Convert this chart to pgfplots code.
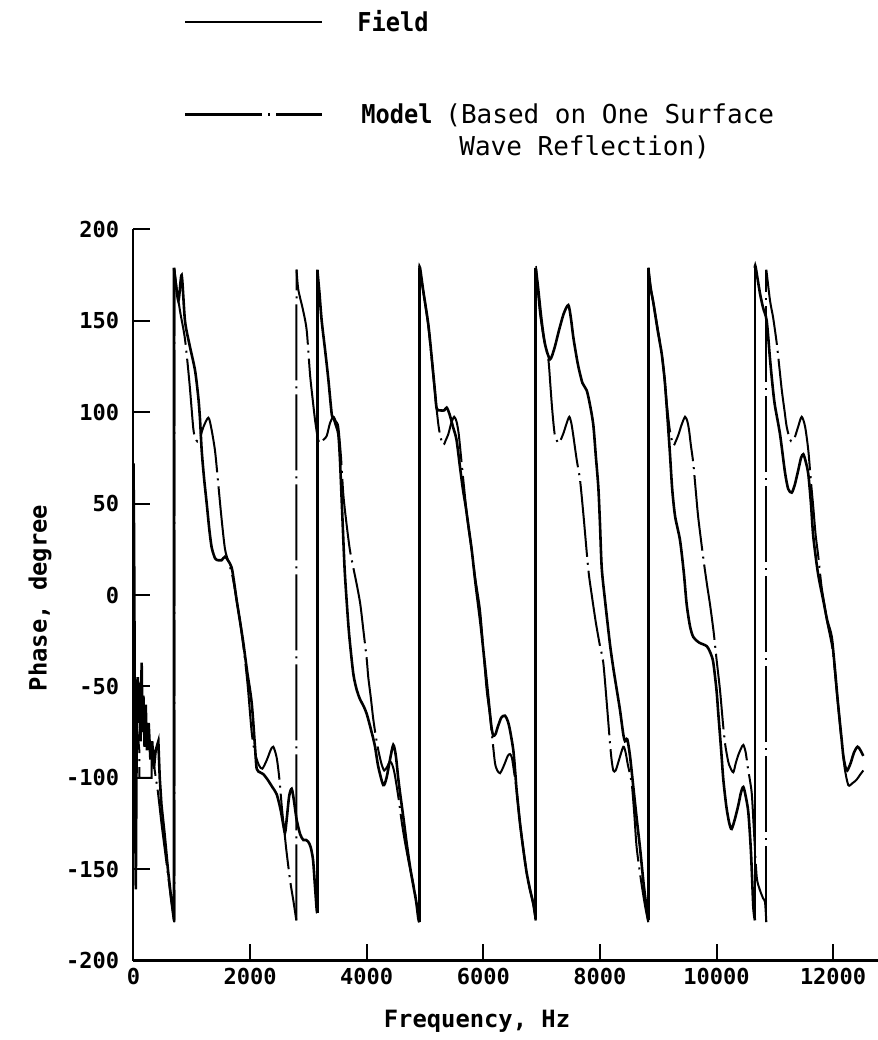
\documentclass[border=0pt]{standalone}
\usepackage{fontspec}
\usepackage{graphicx}
\usepackage{pgfplots}
\pgfplotsset{compat=1.18}
\newfontfamily\plotfont{DejaVu Sans Mono}
\pgfplotsset{
  F/.style={black, line width=1.3pt, smooth, tension=0.45},
  Fs/.style={black, line width=1.3pt},
  M/.style={black, line width=1pt, dash pattern=on 38pt off 3pt on 1pt off 3pt, smooth, tension=0.45},
  Ms/.style={black, line width=1pt, dash pattern=on 38pt off 3pt on 1pt off 3pt},
}
\begin{document}
\begin{tikzpicture}
\begin{axis}[
  at={(0,0)}, anchor=south west,
  scale only axis, width=372.25pt, height=365.6pt,
  xmin=0, xmax=12770, ymin=-200, ymax=200,
  axis lines=left, axis line style={-},
  x axis line style={line width=1.6pt},
  y axis line style={line width=1pt},
  tick align=inside, major tick length=8.5pt,
  tick style={line width=1pt, black},
  scaled ticks=false,
  xtick={0,2000,4000,6000,8000,10000,12000},
  xticklabels={0,2000,4000,6000,8000,10000,12000},
  ytick={-200,-150,-100,-50,0,50,100,150,200},
  yticklabels={-200,-150,-100,-50,0,50,100,150,200},
  ticklabel style={font=\plotfont\bfseries\fontsize{11}{12}\selectfont},
  yticklabel style={anchor=east, inner sep=0pt, xshift=-7pt},
  xticklabel style={anchor=north, inner sep=0pt, yshift=-3.7pt},
]
% ---------------- Field (solid) ----------------
\addplot[Fs] coordinates {
(0,72) (10,30) (20,-40) (30,-120) (40,-161) (50,-100) (60,-60) (75,-45) (90,-70) (105,-48) (120,-80) (140,-37) (155,-75) (170,-55) (190,-83) (210,-60) (230,-85) (260,-70) (290,-90) (320,-80) (350,-95) (380,-85) (426,-80) (450,-100) (480,-115) (530,-130) (590,-150) (650,-167) (695,-178) (695,179)};
\addplot[F] coordinates {
(695,179) (769,161) (826,175) (883,150) (960,137) (1055,123) (1112,108) (1141,96) (1170,79) (1210,64) (1256,50) (1300,36) (1341,26) (1400,20) (1455,19) (1510,19) (1570,21) (1620,19) (1684,15) (1730,6) (1770,-3) (1830,-15) (1883,-26) (1950,-42) (2027,-59) (2084,-83) (2113,-95) (2170,-97) (2227,-98) (2300,-101) (2380,-105) (2456,-109) (2520,-117) (2560,-124) (2599,-130) (2630,-122) (2670,-110) (2713,-106) (2750,-112) (2799,-123) (2860,-131) (2913,-134) (2960,-134) (2998,-135) (3040,-138) (3080,-145) (3110,-158) (3142,-172) (3153,-174)};
\addplot[Fs] coordinates {(3153,-174) (3153,178)};
\addplot[F] coordinates {
(3153,178) (3190,165) (3228,150) (3290,133) (3342,118) (3400,99) (3430,97) (3470,93) (3513,88) (3540,75) (3580,45) (3620,15) (3660,-5) (3700,-22) (3770,-43) (3830,-52) (3885,-57) (3950,-61) (4000,-65) (4060,-72) (4137,-82) (4199,-94) (4285,-104) (4340,-100) (4400,-90) (4456,-82) (4500,-88) (4540,-100) (4571,-108) (4630,-122) (4686,-136) (4750,-150) (4800,-159) (4850,-168) (4885,-177) (4903,-179)};
\addplot[Fs] coordinates {(4903,-179) (4903,179)};
\addplot[F] coordinates {
(4903,179) (4915,179) (4972,166) (5057,148) (5115,130) (5172,111) (5200,102) (5258,101) (5330,101) (5372,102.5) (5420,99) (5480,92) (5540,85) (5600,70) (5650,58) (5700,48) (5800,25) (5860,8) (5950,-15) (6000,-30) (6050,-45) (6115,-65) (6143,-73) (6172,-77) (6210,-76) (6250,-72) (6310,-67) (6372,-66) (6420,-69) (6458,-74) (6515,-85) (6550,-98) (6572,-107) (6630,-125) (6690,-140) (6744,-152) (6800,-161) (6858,-169) (6898,-177)};
\addplot[Fs] coordinates {(6898,-177) (6898,179)};
\addplot[F] coordinates {
(6898,179) (6904,178) (6940,168) (7000,150) (7060,137) (7144,129) (7220,135) (7300,145) (7380,154) (7458,158.6) (7500,152) (7544,141) (7590,132) (7630,125) (7700,116) (7773,112) (7830,104) (7887,93) (7930,76) (7973,59) (8000,40) (8031,15) (8088,-3) (8173,-27) (8230,-40) (8290,-52) (8345,-63) (8400,-76) (8431,-80) (8470,-79) (8516,-88) (8573,-105) (8630,-122) (8687,-138) (8750,-158) (8803,-172) (8830,-178)};
\addplot[Fs] coordinates {(8830,-178) (8830,179)};
\addplot[F] coordinates {
(8830,179) (8870,168) (8916,160) (8990,145) (9060,132) (9110,118) (9146,103) (9200,78) (9240,58) (9290,43) (9374,30) (9440,12) (9488,-5) (9545,-17) (9602,-23) (9700,-26) (9832,-28) (9900,-32) (9945,-37) (10000,-52) (10031,-65) (10080,-85) (10117,-101) (10170,-116) (10220,-125) (10260,-128) (10320,-122) (10374,-115) (10420,-108) (10460,-105) (10500,-110) (10546,-119) (10590,-140) (10631,-170) (10660,-178)};
\addplot[Fs] coordinates {(10660,-178) (10660,179)};
\addplot[F] coordinates {
(10660,179) (10670,179.6) (10746,165) (10800,157) (10861,150) (10918,129) (10960,115) (11000,104) (11089,88) (11175,67) (11230,58) (11290,56) (11340,60) (11400,68) (11450,75) (11489,77) (11530,73) (11575,66) (11620,50) (11660,32) (11740,12) (11832,-3) (11900,-14) (11975,-23) (12030,-40) (12080,-58) (12146,-79) (12175,-88) (12210,-94) (12243,-96) (12300,-92) (12360,-86) (12420,-83) (12470,-85) (12518,-88)};
% ---------------- Model (dash-dot) ----------------
\addplot[Ms] coordinates {
(5,-45) (30,-60) (60,-72) (100,-85) (102,-100) (310,-100) (312,-85) (360,-95) (420,-108) (480,-125) (560,-145) (640,-165) (700,-179) (700,178)};
\addplot[M] coordinates {
(700,178) (740,168) (800,155) (883,140) (960,116) (1026,91) (1060,86) (1095,84) (1140,86) (1200,92) (1283,97) (1330,92) (1398,79) (1450,62) (1510,42) (1570,25) (1640,17) (1700,10) (1770,-3) (1830,-15) (1900,-32) (1960,-50) (2027,-75) (2080,-86) (2150,-93) (2210,-95) (2290,-90) (2350,-85) (2398,-83) (2456,-89) (2500,-100) (2550,-118) (2600,-133) (2627,-141) (2690,-157) (2741,-167) (2793,-178)};
\addplot[Ms] coordinates {(2793,-178) (2796,178)};
\addplot[M] coordinates {
(2796,178) (2827,167) (2900,157) (2970,145) (3027,121) (3070,108) (3113,96) (3160,86) (3199,83) (3260,85) (3314,87) (3370,94) (3427,97.5) (3470,95) (3513,92) (3560,75) (3599,55) (3650,40) (3710,25) (3770,15) (3828,6) (3890,-5) (3942,-19) (4000,-35) (4027,-45) (4070,-56) (4113,-68) (4160,-78) (4200,-85) (4250,-92) (4300,-96) (4350,-94) (4400,-91) (4440,-93) (4480,-98) (4550,-112) (4600,-124) (4650,-134) (4720,-146) (4780,-155) (4850,-167) (4903,-179)};
\addplot[Ms] coordinates {(4903,-179) (4903,179)};
\addplot[M] coordinates {
(4903,179) (4950,170) (5000,160) (5057,147) (5115,129) (5172,110) (5230,93) (5270,86) (5315,82) (5360,85) (5400,88) (5450,94) (5500,97.5) (5540,95) (5570,90) (5589,85) (5660,62) (5732,40) (5800,25) (5858,10) (5943,-8) (6001,-30) (6058,-52) (6115,-66) (6160,-80) (6201,-92) (6240,-96) (6287,-97.5) (6330,-95) (6370,-92) (6420,-88) (6458,-87) (6490,-89) (6520,-95) (6572,-107) (6630,-125) (6690,-140) (6744,-152) (6800,-161) (6858,-169) (6898,-178)};
\addplot[Ms] coordinates {(6898,-178) (6904,178)};
\addplot[M] coordinates {
(6904,178) (6940,165) (6973,154) (7040,140) (7115,129) (7150,115) (7173,105) (7200,95) (7230,87) (7290,83) (7330,85) (7380,89) (7430,94) (7475,97.5) (7510,94) (7540,88) (7602,74) (7659,63) (7720,43) (7801,14) (7860,0) (7930,-15) (8002,-28) (8058,-37) (8120,-60) (8173,-81) (8200,-90) (8230,-96) (8270,-96) (8330,-90) (8401,-83) (8440,-86) (8480,-93) (8545,-103) (8590,-120) (8630,-138) (8700,-155) (8774,-170) (8830,-179)};
\addplot[Ms] coordinates {(8830,-179) (8830,179)};
\addplot[M] coordinates {
(8830,179) (8870,168) (8916,160) (8990,146) (9060,132) (9110,118) (9146,105) (9200,90) (9259,82) (9300,84) (9350,88) (9400,93) (9460,97.5) (9500,95) (9530,90) (9560,82) (9602,72) (9650,55) (9688,42) (9774,20) (9840,5) (9888,-5) (9950,-20) (10000,-35) (10060,-52) (10110,-70) (10150,-82) (10200,-91) (10231,-94) (10288,-97) (10330,-92) (10374,-87.5) (10420,-84) (10460,-82) (10500,-86) (10540,-95) (10603,-108) (10640,-128) (10689,-154) (10740,-161) (10800,-166) (10832,-168) (10855,-179)};
\addplot[Ms] coordinates {(10855,-179) (10855,178)};
\addplot[M] coordinates {
(10855,178) (10918,161) (10970,152) (11032,138) (11080,124) (11120,112) (11170,100) (11204,92) (11261,85) (11300,84) (11340,86) (11400,92) (11461,97.5) (11520,92) (11575,79) (11620,62) (11660,48) (11700,33) (11746,21) (11800,5) (11850,-5) (11900,-15) (11992,-30) (12060,-52) (12100,-65) (12146,-80) (12200,-95) (12261,-104) (12330,-103) (12404,-101) (12470,-98) (12518,-96)};
\end{axis}
% legend
\draw[line width=1.4pt] (25.75pt,469.3pt) -- (94.25pt,469.3pt);
\node[anchor=base west, inner sep=0pt, font=\plotfont\bfseries\fontsize{13}{14}\selectfont] at (111.75pt,464.3pt) {\scalebox{0.91}[1]{Field}};
\draw[line width=1.4pt, dash pattern=on 38.5pt off 3pt on 1pt off 3pt] (25.75pt,423.15pt) -- (94.25pt,423.15pt);
\node[anchor=base west, inner sep=0pt, font=\plotfont\bfseries\fontsize{13}{14}\selectfont] at (113.75pt,418.3pt) {\scalebox{0.91}[1]{Model}};
\node[anchor=base west, inner sep=0pt, font=\plotfont\fontsize{13}{14}\selectfont] at (155.75pt,418.3pt) {(Based on One Surface};
\node[anchor=base west, inner sep=0pt, font=\plotfont\fontsize{13}{14}\selectfont] at (162.75pt,402.3pt) {Wave Reflection)};
% axis labels
\node[rotate=90, anchor=center, inner sep=0pt, font=\plotfont\bfseries\fontsize{11.9}{13}\selectfont] at (-46.75pt,181.3pt) {Phase, degree};
\node[anchor=north, inner sep=0pt, font=\plotfont\bfseries\fontsize{11.9}{13}\selectfont] at (171.75pt,-24.7pt) {Frequency, Hz};
\pgfresetboundingbox
\path[use as bounding box] (-66.75pt,-39.7pt) rectangle (372.25pt,480.3pt);
\end{tikzpicture}
\end{document}
